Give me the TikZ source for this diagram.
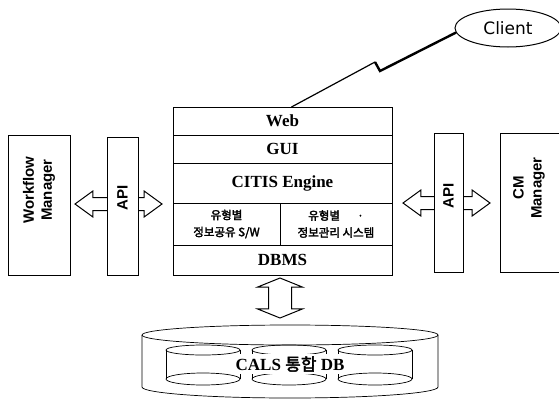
\documentclass[tikz,border=0pt]{standalone}
\usepackage{fontspec}
\setmainfont{Liberation Serif}
\setsansfont{Liberation Sans}
\newfontfamily\clientfont{DejaVu Sans}
\newfontfamily\kr{Noto Sans CJK KR}[BoldFont={Noto Sans CJK KR},BoldFeatures={FakeBold=2.5}]
\usetikzlibrary{shapes, shapes.arrows, positioning}
\tikzstyle{layer}=[draw,fill=white,rectangle,inner sep=0pt,outer sep=0pt,font=\bfseries\fontsize{17}{17}\selectfont]
\tikzstyle{sidebox}=[draw,fill=white,rectangle,inner sep=0pt]
\tikzstyle{sidelabel}=[rotate=90,align=center,font=\sffamily\bfseries\fontsize{15}{18}\selectfont]
\tikzstyle{fatarrow}=[draw,fill=white,double arrow,inner sep=0pt,minimum width=25pt,double arrow head extend=6.5pt,double arrow tip angle=72]
\tikzstyle{drum}=[line width=.7pt]
\newcommand{\krsmall}[1]{{\kr\bfseries\fontsize{11.5}{14}\selectfont #1}}

\begin{document}
\begin{tikzpicture}[x=1pt,y=-1pt,line width=1pt]
    \useasboundingbox (0,0) rectangle (559,402);
    % fat arrows first, the boxes lie over them
    \node[fatarrow,minimum height=87pt] (larr) at (118.5,204) {\rule{0pt}{12pt}};
    \node[fatarrow,minimum height=87pt] (rarr) at (446.5,203) {\rule{0pt}{12pt}};
    \node[fatarrow,rotate=90,minimum height=40pt,minimum width=44pt,
          double arrow head extend=11pt,double arrow tip angle=136] (varr) at (280,298) {\rule{0pt}{22pt}};
    % CITIS stack
    \node[layer,minimum width=219pt,minimum height=28pt] (web) at (282.5,121) {Web};
    \node[layer,minimum width=219pt,minimum height=28pt,below=0pt of web] (gui) {GUI};
    \node[layer,minimum width=219pt,minimum height=40pt,below=0pt of gui] (engine) {CITIS Engine};
    \node[layer,minimum width=107pt,minimum height=42pt,align=center,
          below right=0pt and 0pt of engine.south west] (share) {\krsmall{유형별}\\\krsmall{정보공유 S/W}};
    \node[layer,minimum width=112pt,minimum height=42pt,align=center,right=0pt of share] (manage)
        {\krsmall{유형별\hspace{1.5em}·}\\\krsmall{정보관리 시스템}};
    \node[layer,minimum width=219pt,minimum height=30pt,
          below right=0pt and 0pt of share.south west] (dbms) {DBMS};
    % side boxes
    \node[sidebox,minimum width=62pt,minimum height=140pt] (wfm) at (39,205) {};
    \node[sidelabel] (wfmtext) at (39,190) {Workflow\\Manager};
    \node[sidebox,minimum width=31pt,minimum height=138pt] (lapi) at (122.5,206) {};
    \node[sidelabel] (lapitext) at (122.5,198) {API};
    \node[sidebox,minimum width=29pt,minimum height=139pt] (rapi) at (448.5,202.5) {};
    \node[sidelabel] (rapitext) at (448.5,196) {API};
    \node[sidebox,minimum width=62pt,minimum height=139pt] (cmm) at (531,202.5) {};
    \node[sidelabel] (cmmtext) at (529,188) {CM\\Manager};
    % client and the link
    \node[draw,ellipse,minimum width=106pt,minimum height=38pt,
          font=\clientfont\fontsize{17}{17}\selectfont] (client) at (508,28) {Client};
    \coordinate (zigA) at (375,62);
    \coordinate (zigB) at (380,71);
    \draw[line width=1.2pt] ([xshift=9pt]web.north) -- (zigA);
    \draw[line width=2.4pt,line join=miter] (zigA) -- (zigB) -- (client.185);
    % integrated DB
    \draw[drum] (290,335) ellipse [x radius=148pt, y radius=10pt];
    \draw[drum] (142,335) -- (142,387) arc[start angle=180,end angle=360,x radius=148pt,y radius=11pt] -- (438,335);
    \foreach \cx in {203,289,375} {
        \draw[drum] (\cx,350) ellipse [x radius=37pt, y radius=5pt];
        \draw[drum] ({\cx-37},350) -- ({\cx-37},379);
        \draw[drum] ({\cx+37},350) -- ({\cx+37},379);
        \draw[drum] (\cx,379) ellipse [x radius=37pt, y radius=6pt];
    }
    \node[fill=white,inner sep=2pt,font=\bfseries\fontsize{17}{17}\selectfont] (calsdb) at (290,364) {CALS {\kr 통합} DB};
\end{tikzpicture}
\end{document}
